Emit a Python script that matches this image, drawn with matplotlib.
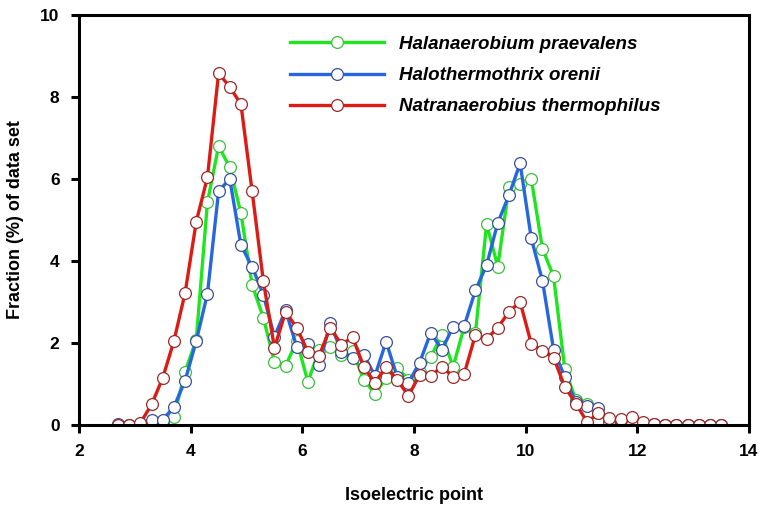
import matplotlib
matplotlib.use('Agg')
import matplotlib.pyplot as plt
import numpy as np

plt.rcParams['font.family'] = ['Liberation Sans', 'DejaVu Sans']

# isoelectric point, step 0.2 from 2.7 to 13.5
pI = [2.7, 2.9, 3.1, 3.3, 3.5, 3.7, 3.9, 4.1, 4.3, 4.5, 4.7, 4.9, 5.1, 5.3, 5.5,
      5.7, 5.9, 6.1, 6.3, 6.5, 6.7, 6.9, 7.1, 7.3, 7.5, 7.7, 7.9, 8.1, 8.3, 8.5,
      8.7, 8.9, 9.1, 9.3, 9.5, 9.7, 9.9, 10.1, 10.3, 10.5, 10.7, 10.9, 11.1, 11.3,
      11.5, 11.7, 11.9, 12.1, 12.3, 12.5, 12.7, 12.9, 13.1, 13.3, 13.5]

halanaerobium = [0, 0, 0, 0.05, 0.05, 0.2, 1.3, 2.08, 5.43, 6.8, 6.28, 5.16, 3.42, 2.62, 1.54,
                 1.44, 2.05, 1.05, 1.83, 1.91, 1.71, 1.8, 1.1, 0.76, 1.15, 1.39, 1.1, 1.3, 1.66, 2.2,
                 1.42, 2.4, 2.25, 4.9, 3.86, 5.8, 5.87, 6.0, 4.3, 3.62, 1.37, 0.6, 0.52, 0.3,
                 0.1, 0.08, 0.02, 0, 0, 0, 0, 0, 0, 0, 0]

halothermothrix = [0.03, 0, 0.02, 0.13, 0.13, 0.44, 1.08, 2.05, 3.2, 5.7, 6.0, 4.38, 3.86, 3.18, 2.15,
                   2.8, 1.9, 1.98, 1.47, 2.49, 1.78, 1.64, 1.71, 1.2, 2.03, 1.17, 1.03, 1.52, 2.25, 1.83,
                   2.4, 2.42, 3.28, 3.9, 4.93, 5.6, 6.38, 4.55, 3.52, 1.83, 1.17, 0.55, 0.46, 0.42,
                   0.05, 0.12, 0.03, 0.02, 0.02, 0.01, 0, 0, 0, 0, 0]

natranaerobius = [0, 0, 0.05, 0.5, 1.15, 2.05, 3.22, 4.96, 6.04, 8.58, 8.24, 7.82, 5.7, 3.52, 1.88,
                  2.76, 2.37, 1.78, 1.69, 2.37, 1.96, 2.14, 1.42, 1.03, 1.42, 1.1, 0.71, 1.22, 1.2, 1.42,
                  1.17, 1.25, 2.2, 2.1, 2.37, 2.76, 3.0, 1.98, 1.81, 1.64, 0.93, 0.52, 0.07, 0.28,
                  0.16, 0.15, 0.2, 0.08, 0.02, 0, 0, 0, 0, 0, 0]

fig = plt.figure(figsize=(7.71, 5.12), dpi=100)
ax = fig.add_axes([0.1025, 0.17, 0.869, 0.801])

# (data, label, line colour, marker edge colour)
series = [
    (halanaerobium, 'Halanaerobium praevalens', '#1ee61e', '#3cbf3c'),
    (halothermothrix, 'Halothermothrix orenii', '#2667e0', '#3a4f9a'),
    (natranaerobius, 'Natranaerobius thermophilus', '#dc1c14', '#9a2a2a'),
]

for vals, lab, col, edge in series:
    ax.plot(pI, vals, color=col, linewidth=2.4, marker='o', markersize=8.5,
            markerfacecolor='white', markeredgecolor=edge, markeredgewidth=0.9,
            label=lab)

ax.set_xlim(2, 14)
ax.set_ylim(0, 10)
ax.set_xticks([2, 4, 6, 8, 10, 12, 14])
ax.set_yticks([0, 2, 4, 6, 8, 10])

for s in ax.spines.values():
    s.set_linewidth(2.2)
ax.tick_params(direction='out', length=6, width=2.2, labelsize=12.5, pad=8)
for t in ax.get_xticklabels() + ax.get_yticklabels():
    t.set_fontweight('bold')

ax.set_xlabel('Isoelectric point', fontsize=13, fontweight='bold', labelpad=20)
ax.set_ylabel('Fraction (%) of data set', fontsize=13, fontweight='bold', labelpad=12)

leg = ax.legend(loc='upper left', bbox_to_anchor=(0.29, 0.99), frameon=False,
                handlelength=5.0, numpoints=1, labelspacing=0.75, handletextpad=0.8,
                prop={'size': 13.5, 'style': 'italic', 'weight': 'bold'})

plt.savefig('out.png', dpi=100)
